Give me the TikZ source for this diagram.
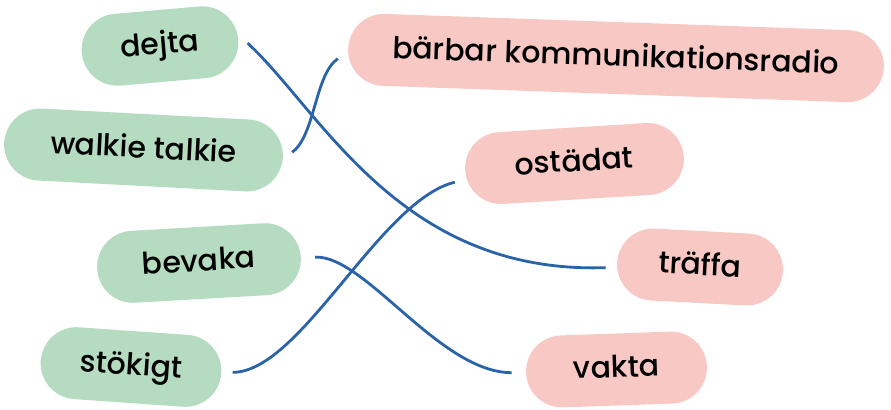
\documentclass[tikz,border=0pt]{standalone}
\usepackage{fontspec}
\setmainfont{Poppins}[UprightFont={* Medium}]
\usepackage{tikz}

\definecolor{pillgreen}{HTML}{B5DBC1}
\definecolor{pillpink}{HTML}{F8C9C4}
\definecolor{linkblue}{HTML}{2B63A8}

\tikzset{
  pill/.style={rounded corners=18pt, minimum height=36pt, inner xsep=0pt,
    text height=1.45ex, text depth=0pt, font=\fontsize{15}{18}\selectfont},
  green pill/.style={pill, fill=pillgreen},
  pink pill/.style={pill, fill=pillpink},
  link/.style={draw=linkblue, line width=1.4pt}
}

\begin{document}
\begin{tikzpicture}[x=0.5pt, y=-0.5pt]
\useasboundingbox (0,0) rectangle (891,409);

\node[green pill, minimum width=78.5pt, rotate=5]    (dejta)   at (160,46)    {dejta};
\node[green pill, minimum width=139.5pt, rotate=-3]  (walkie)  at (143.5,150) {walkie talkie};
\node[green pill, minimum width=102pt, rotate=3.3]   (bevaka)  at (199,263)   {bevaka};
\node[green pill, minimum width=90.5pt, rotate=-4]   (stokigt) at (131,367)   {stökigt};

\node[pink pill, minimum width=268pt, rotate=-2]     (radio)   at (616,58)    {bärbar kommunikationsradio};
\node[pink pill, minimum width=109.5pt, rotate=3.5]  (ostadat) at (574.5,163.5) {ostädat};
\node[pink pill, minimum width=83pt, rotate=-3]      (traffa)  at (700,267)   {träffa};
\node[pink pill, minimum width=90.5pt, rotate=2]     (vakta)   at (616.5,369.5) {vakta};

\draw[link] ([shift={(9,4)}]dejta.east) .. controls +(73,67) and +(-206,7) .. ([shift={(-11,5)}]traffa.west);
\draw[link] ([shift={(9,-5)}]walkie.east) .. controls +(23,-17) and +(-23,16) .. ([shift={(-10,10)}]radio.west);
\draw[link] ([shift={(14,0)}]bevaka.east) .. controls +(50,-2) and +(-72,0) .. ([shift={(-14,0)}]vakta.west);
\draw[link] ([shift={(11,-1)}]stokigt.east) .. controls +(68,0) and +(-75,18) .. ([shift={(-10,12)}]ostadat.west);
\end{tikzpicture}
\end{document}
